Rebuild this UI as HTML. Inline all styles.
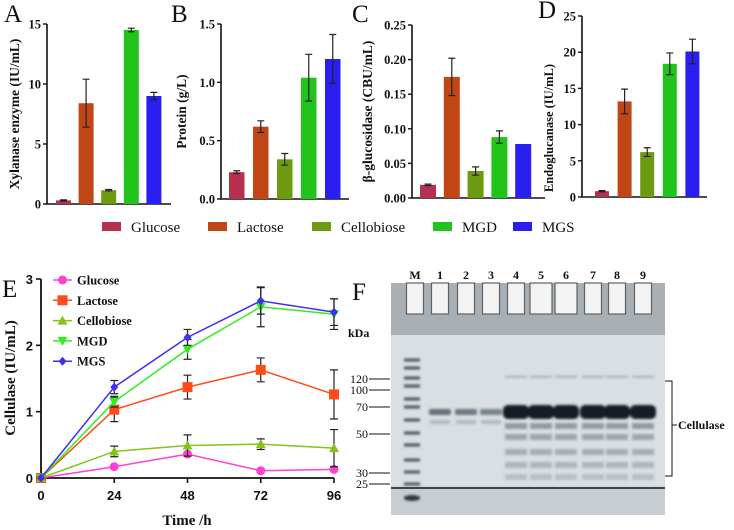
<!DOCTYPE html>
<html><head><meta charset="utf-8">
<style>
html,body{margin:0;padding:0;background:#fff;}
svg{display:block;font-family:"Liberation Serif",serif;}
</style></head>
<body>
<svg id="fig" width="734" height="530" viewBox="0 0 734 530" xmlns="http://www.w3.org/2000/svg">
<defs>
<filter id="blur1"><feGaussianBlur stdDeviation="1.4"/></filter>
</defs>
</svg>
<script>
// ---- Bar chart data (panels A-D) ----
const barCategories = ["Glucose","Lactose","Cellobiose","MGD","MGS"];
const barColors = ["#b8304f","#c04616","#6c9a10","#22c41c","#2b1ef0"];
const xylanaseValues = [0.3, 8.4, 1.15, 14.5, 9.0];
const xylanaseErrors = [0.05, 2.0, 0.06, 0.15, 0.3];
const proteinValues = [0.23, 0.62, 0.34, 1.04, 1.2];
const proteinErrors = [0.012, 0.05, 0.05, 0.2, 0.21];
const glucosidaseValues = [0.019, 0.175, 0.039, 0.088, 0.078];
const glucosidaseErrors = [0.001, 0.027, 0.006, 0.009, 0.0];
const endoValues = [0.8, 13.2, 6.2, 18.4, 20.1];
const endoErrors = [0.08, 1.7, 0.6, 1.5, 1.7];
const xylTicks = [0,5,10,15];
const protTicks = ["0.0","0.5","1.0","1.5"];
const glucTicks = ["0.00","0.05","0.10","0.15","0.20","0.25"];
const endoTicks = [0,5,10,15,20,25];

// ---- Line chart data (panel E) ----
const timePoints = [0,24,48,72,96];
const timeTicks = [0,24,48,72,96];
const cellTicks = [0,1,2,3];
const glucoseSeries = [0,0.17,0.36,0.11,0.13];
const glucoseErr = [0,0.02,0.03,0.02,0.02];
const lactoseSeries = [0,1.03,1.37,1.63,1.26];
const lactoseErr = [0,0.18,0.18,0.18,0.37];
const cellobioseSeries = [0,0.4,0.49,0.51,0.45];
const cellobioseErr = [0,0.08,0.16,0.08,0.28];
const mgdSeries = [0,1.15,1.94,2.58,2.47];
const mgdErr = [0,0.08,0.15,0.3,0.23];
const mgsSeries = [0,1.37,2.12,2.67,2.5];
const mgsErr = [0,0.1,0.12,0.2,0.2];

const NS="http://www.w3.org/2000/svg";
const svg=document.getElementById('fig');
function el(tag,attrs,parent,text){const e=document.createElementNS(NS,tag);for(const k in attrs)e.setAttribute(k,attrs[k]);if(text!==undefined)e.textContent=text;(parent||svg).appendChild(e);return e;}

function barPanel(cfg){
  const g=el('g',{});
  
  
  const y=v=>cfg.y0-(v/cfg.max)*(cfg.y0-cfg.y1);
  const ax=el('path',{d:`M${cfg.ax} ${cfg.y1} V${cfg.y0} H${cfg.xend}`,stroke:'#111','stroke-width':1.6,fill:'none'},g);
  
  
  cfg.ticks.forEach(t=>{
    const yy=y(parseFloat(t));
    el('line',{x1:cfg.ax-4,x2:cfg.ax,y1:yy,y2:yy,stroke:'#111','stroke-width':1.4},g);
    const tl=el('text',{x:cfg.ax-6,y:yy+4.5,'text-anchor':'end','font-size':12.5,'font-weight':'bold',fill:'#111'},g,String(t));
    
    
  });
  cfg.values.forEach((v,i)=>{
    const x=cfg.bx+i*cfg.step;
    const b=el('rect',{x:x,y:y(v),width:cfg.bw,height:cfg.y0-y(v),fill:barColors[i]},g);
    
    
    const e=cfg.errors[i];
    if(e>0){
      const cx=x+cfg.bw/2;
      el('path',{d:`M${cx} ${y(v+e)} V${y(v-e)} M${cx-3.5} ${y(v+e)} H${cx+3.5} M${cx-3.5} ${y(v-e)} H${cx+3.5}`,stroke:'#222','stroke-width':1.2,fill:'none'},g);
    }
  });
  const lab=el('text',{x:cfg.lx,y:cfg.ly,'font-size':25,fill:'#111'},g,cfg.letter);
  
  
  const tt=el('text',{x:0,y:0,'text-anchor':'middle','font-size':cfg.tfs||13.5,'font-weight':'bold',fill:'#111',transform:`translate(${cfg.tx},${cfg.tc||(cfg.y0+cfg.y1)/2}) rotate(-90)`},g,cfg.title);
  
  
}
barPanel({name:'panel-a-xylanase',letter:'A',lx:4,ly:22,ax:47,y0:204,y1:24,xend:171,max:15,ticks:xylTicks,values:xylanaseValues,errors:xylanaseErrors,bx:56,step:22.6,bw:15,tx:19,title:'Xylanase enzyme (IU/mL)'});
barPanel({name:'panel-b-protein',letter:'B',lx:171,ly:22,ax:221,y0:199,y1:24,xend:349,max:1.5,ticks:protTicks,values:proteinValues,errors:proteinErrors,bx:229,step:24,bw:15.5,tx:186,title:'Protein (g/L)'});
barPanel({name:'panel-c-glucosidase',letter:'C',lx:352,ly:22,ax:412,y0:198,y1:25,xend:545,max:0.25,ticks:glucTicks,values:glucosidaseValues,errors:glucosidaseErrors,bx:420,step:23.8,bw:16,tx:372,title:'β-glucosidase (CBU/mL)'});
barPanel({name:'panel-d-endoglucanase',letter:'D',lx:538,ly:18,ax:582,y0:197,y1:16,xend:707,max:25,ticks:endoTicks,values:endoValues,errors:endoErrors,bx:595,step:22.6,bw:14,tx:553,tc:128,tfs:12.5,title:'Endoglucanase  (IU/mL)'});

// shared legend
const legX=[102,208,312,433,513];
const lg=el('g',{});


barCategories.forEach((c,i)=>{
  const s=el('rect',{x:legX[i],y:222,width:19,height:9,fill:barColors[i]},lg);
  
  
  const t=el('text',{x:legX[i]+29,y:232,'font-size':15,fill:'#111'},lg,c);
  
  
});

// ---- Panel E ----
const eg=el('g',{});


const ex=t=>41+(t/96)*(334-41);
const ey=v=>478-(v/3)*(478-279);
el('path',{d:`M41 279 V478 H334`,stroke:'#111','stroke-width':1.8,fill:'none'},eg);
cellTicks.forEach(t=>{
  el('line',{x1:36,x2:41,y1:ey(t),y2:ey(t),stroke:'#111','stroke-width':1.6},eg);
  const l=el('text',{x:33,y:ey(t)+5,'text-anchor':'end','font-size':13,'font-weight':'bold','font-family':'Liberation Sans, sans-serif',fill:'#111'},eg,String(t));
  
  
});
timeTicks.forEach(t=>{
  el('line',{x1:ex(t),x2:ex(t),y1:478,y2:483,stroke:'#111','stroke-width':1.6},eg);
  const l=el('text',{x:ex(t),y:500,'text-anchor':'middle','font-size':13,'font-weight':'bold','font-family':'Liberation Sans, sans-serif',fill:'#111'},eg,String(t));
  
  
});
const xt=el('text',{x:187,y:525,'text-anchor':'middle','font-size':15,'font-weight':'bold',fill:'#111'},eg,'Time /h');


const yt=el('text',{x:0,y:0,'text-anchor':'middle','font-size':15,'font-weight':'bold',fill:'#111',transform:'translate(15,378) rotate(-90)'},eg,'Cellulase (IU/mL)');


const eL=el('text',{x:2,y:297,'font-size':25,fill:'#111'},eg,'E');



const seriesList=[
 {n:'Glucose',d:glucoseSeries,e:glucoseErr,c:'#ff40d0',m:'circle'},
 {n:'Lactose',d:lactoseSeries,e:lactoseErr,c:'#ff4a1a',m:'square'},
 {n:'Cellobiose',d:cellobioseSeries,e:cellobioseErr,c:'#86c21c',m:'tri'},
 {n:'MGD',d:mgdSeries,e:mgdErr,c:'#30ee20',m:'tridown'},
 {n:'MGS',d:mgsSeries,e:mgsErr,c:'#4030ee',m:'diamond'}];
function marker(m,x,y,c,parent){
  if(m==='circle')return el('circle',{cx:x,cy:y,r:4.5,fill:c},parent);
  if(m==='square')return el('rect',{x:x-5,y:y-5,width:10,height:10,fill:c},parent);
  if(m==='tri')return el('path',{d:`M${x} ${y-5} L${x+5} ${y+4} L${x-5} ${y+4}Z`,fill:c},parent);
  if(m==='tridown')return el('path',{d:`M${x-5} ${y-4} L${x+5} ${y-4} L${x} ${y+5}Z`,fill:c},parent);
  return el('path',{d:`M${x} ${y-4.5} L${x+4} ${y} L${x} ${y+4.5} L${x-4} ${y}Z`,fill:c},parent);
}
seriesList.forEach((s,si)=>{
  const sg=el('g',{},eg);
  
  
  s.d.forEach((v,i)=>{
    const e=s.e[i]; if(e>0){const x=ex(timePoints[i]);
      el('path',{d:`M${x} ${ey(v+e)} V${ey(v-e)} M${x-4} ${ey(v+e)} H${x+4} M${x-4} ${ey(v-e)} H${x+4}`,stroke:'#222','stroke-width':1.2,fill:'none'},sg);}
  });
  el('polyline',{points:s.d.map((v,i)=>ex(timePoints[i])+','+ey(v)).join(' '),stroke:s.c,'stroke-width':1.5,fill:'none'},sg);
  s.d.forEach((v,i)=>{const mk=marker(s.m,ex(timePoints[i]),ey(v),s.c,sg);
    
    });
  const ly=280+si*20.3;
  const le=el('g',{},eg);
  
  
  el('line',{x1:53,x2:72,y1:ly,y2:ly,stroke:s.c,'stroke-width':1.5},le);
  marker(s.m,62.5,ly,s.c,le);
  el('text',{x:77,y:ly+4.5,'font-size':12.5,'font-weight':'bold',fill:'#111'},le,s.n);
});

// ---- Panel F (gel) ----
const fg=el('g',{});


const fL=el('text',{x:352,y:300,'font-size':25,fill:'#111'},fg,'F');


const laneLabels=["M","1","2","3","4","5","6","7","8","9"];
const laneX=[415,440,466,491,516,541,566,593,617,643];
const laneIntensity=[0,0.45,0.42,0.38,1,1,1,1,1,1];
laneLabels.forEach((l,i)=>{
  const t=el('text',{x:laneX[i],y:279,'text-anchor':'middle','font-size':12,'font-weight':'bold',fill:'#111'},fg,l);
  
  
});
const gel=el('rect',{x:391,y:283,width:274,height:232,fill:'#d4d9dd'},fg);


el('rect',{x:391,y:283,width:274,height:52,fill:'#a8afb5'},fg);
el('rect',{x:391,y:335,width:274,height:150,fill:'#dadfe3'},fg);
el('rect',{x:391,y:488,width:274,height:27,fill:'#c8ced3'},fg);
laneX.forEach((x,i)=>{ const w=(i===5||i===6)?22:17;
  el('rect',{x:x-w/2,y:283,width:w,height:31,fill:'#f2f3f2',stroke:'#5c6368','stroke-width':1.2},fg);});
el('line',{x1:391,x2:665,y1:488,y2:488,stroke:'#3d454c','stroke-width':2},fg);
const markerBandY=[360,368,378,386,399,407,420,433,445,460,472,484,498];
const mb=el('g',{filter:'url(#blur1)'},fg);
markerBandY.forEach(y=>{el('rect',{x:404,y:y-1.5,width:16,height:3,fill:'#4a535b'},mb);});
el('ellipse',{cx:412,cy:498,rx:8,ry:3,fill:'#2d353c'},mb);
const bands=el('g',{filter:'url(#blur1)'},fg);
laneX.slice(1).forEach((x,j)=>{const k=laneIntensity[j+1];
  if(k>0.5){
    el('rect',{x:x-13,y:405,width:26,height:14,rx:5,fill:'#141e28'},bands);
    [426,437,452,465,477].forEach((y,q)=>el('rect',{x:x-11,y:y-3,width:22,height:6,fill:'#5a6570','fill-opacity':0.55-q*0.07},bands));
    el('rect',{x:x-11,y:376,width:22,height:1.5,fill:'#6a747c','fill-opacity':0.6},bands);}
  else {
    el('rect',{x:x-11,y:409,width:22,height:6,rx:2,fill:'#3a4652','fill-opacity':k*1.6},bands);
    el('rect',{x:x-10,y:420,width:20,height:4,fill:'#6a747c','fill-opacity':0.35},bands);}
});
const kdaLabels=["120","100","70","50","30","25"];
const kdaY=[379,390,407,434,473,484];
const kl=el('text',{x:348,y:337,'font-size':12,'font-weight':'bold',fill:'#111'},fg,'kDa');


kdaLabels.forEach((k,i)=>{
  el('line',{x1:369,x2:390,y1:kdaY[i],y2:kdaY[i],stroke:'#111','stroke-width':1},fg);
  const t=el('text',{x:368,y:kdaY[i]+4,'text-anchor':'end','font-size':12,fill:'#111'},fg,k);
  
  
});
el('path',{d:'M665 381 H672 V476 H665 M672 425 H677',stroke:'#111','stroke-width':1,fill:'none'},fg);
const cl=el('text',{x:678,y:429,'font-size':12,'font-weight':'bold',fill:'#111'},fg,'Cellulase');


</script>
</body></html>
